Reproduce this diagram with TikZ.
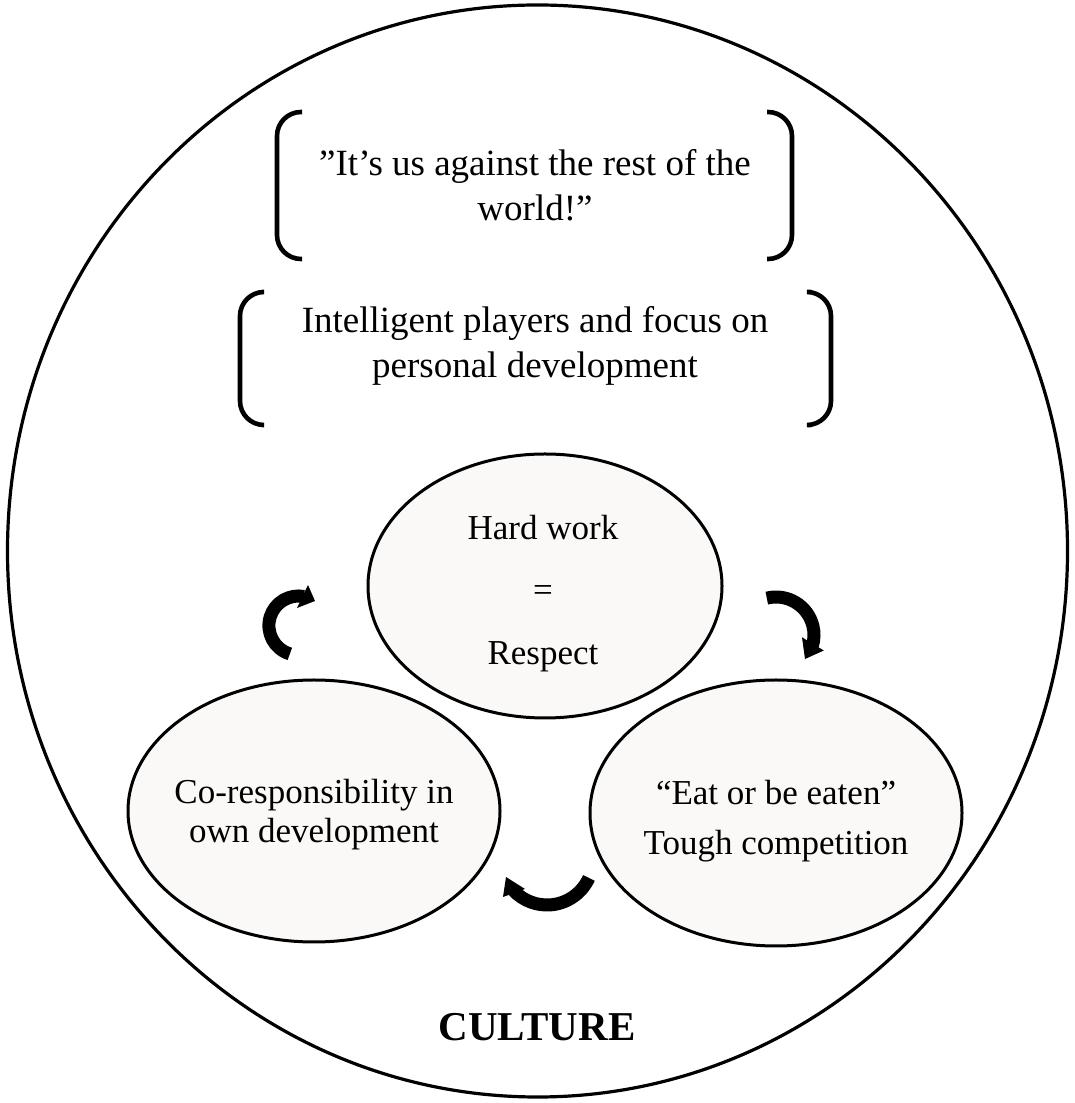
\documentclass[tikz,border=0pt]{standalone}
\usepackage{fontspec}
\setmainfont{Liberation Serif}
\usetikzlibrary{shapes.geometric}
\definecolor{ellfill}{RGB}{250,249,247}
\begin{document}
\begin{tikzpicture}[x=1pt,y=1pt,
  bracket/.style={line width=4.6pt, rounded corners=24pt},
  bubble/.style={ellipse, draw, line width=3pt, fill=ellfill, inner sep=0pt},
  txt/.style={anchor=base, inner sep=0pt, font=\fontsize{35}{40}\selectfont},
  btxt/.style={anchor=base, inner sep=0pt, font=\fontsize{37}{45}\selectfont},
  arrowband/.style={line width=13pt},
]
\useasboundingbox (0,0) rectangle (1075,1103);
\fill[white] (0,0) rectangle (1075,1103);
% outer culture circle
\node[draw, ellipse, line width=3.2pt, minimum width=1060pt, minimum height=1092pt, inner sep=0pt] (culture) at (537.5,552) {};
% brackets
\draw[bracket] (302,991) -- (277,991) -- (277,844) -- (302,844);
\draw[bracket] (767,991) -- (792,991) -- (792,844) -- (767,844);
\draw[bracket] (262,811) -- (240,811) -- (240,678) -- (262,678);
\draw[bracket] (811,811) -- (831,811) -- (831,678) -- (811,678);
\node[btxt] (q1) at (535,927) {”It’s us against the rest of the};
\node[btxt] (q2) at (535,882) {world!”};
\node[btxt] (i1) at (535,770) {Intelligent players and focus on};
\node[btxt] (i2) at (535,725) {personal development};
% ellipses
\node[bubble, minimum width=354pt, minimum height=264pt] (hw) at (545,517) {};
\node[bubble, minimum width=372pt, minimum height=262pt] (co) at (314,292) {};
\node[bubble, minimum width=372pt, minimum height=266pt] (eat) at (776,290) {};
\node[txt] (hw1) at (543,563) {Hard work};
\node[txt] (hw2) at (543,501) {=};
\node[txt] (hw3) at (543,438) {Respect};
\node[txt] (co1) at (314,299) {Co-responsibility in};
\node[txt] (co2) at (314,260) {own development};
\node[txt] (eat1) at (776,298) {“Eat or be eaten”};
\node[txt] (eat2) at (776,248) {Tough competition};
\node[anchor=base, inner sep=0pt, font=\bfseries\fontsize{41}{49}\selectfont] (cult) at (537,62) {CULTURE};
% circular arrows
\coordinate (lac) at (298.5,477.4);
\draw[arrowband] ([shift={(253:29.6)}]lac) arc[start angle=253, end angle=79, radius=29.6];
\fill (308,518) -- (315,502) -- (297,495) -- cycle;
\coordinate (rac) at (776,468);
\draw[arrowband] ([shift={(104:38)}]rac) arc[start angle=104, end angle=-16.6, radius=38];
\fill (823.8,452.5) -- (805,444) -- (802,465.7) -- cycle;
\coordinate (bac) at (547,244);
\draw[arrowband] ([shift={(-24.3:46)}]bac) arc[start angle=-24.3, end angle=-137, radius=46];
\fill (503,206) -- (506,226) -- (525,214) -- cycle;
\end{tikzpicture}
\end{document}
